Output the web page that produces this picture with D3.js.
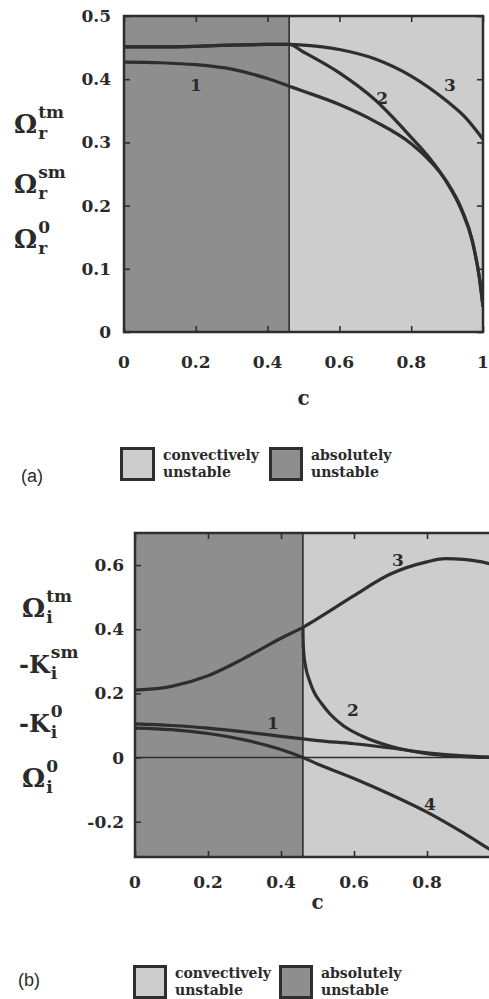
<!DOCTYPE html>
<html><head><meta charset="utf-8">
<script src="https://cdn.jsdelivr.net/npm/d3@7"></script>
<style>
html,body{margin:0;padding:0;background:#fff;}
svg{display:block;}
text{font-family:"DejaVu Serif",serif;font-weight:bold;fill:#2a2a2a;}
</style></head>
<body>
<script>
// ---------- DATA ----------
const boundaryC = 0.46;
// Panel (a)
const aCurve1C = [0,0.1,0.2,0.3,0.4,0.46,0.5,0.6,0.7,0.8,0.85,0.9,0.94,0.97,0.99,1.0];
const aCurve1V = [0.427,0.426,0.423,0.416,0.401,0.389,0.381,0.360,0.333,0.298,0.272,0.237,0.195,0.145,0.085,0.04];
const aCurve2C = [0,0.1,0.2,0.3,0.4,0.46,0.5,0.6,0.7,0.8,0.85,0.9,0.94,0.97,0.99,1.0];
const aCurve2V = [0.451,0.451,0.452,0.454,0.455,0.455,0.443,0.41,0.367,0.308,0.276,0.236,0.193,0.144,0.086,0.04];
const aCurve3C = [0,0.1,0.2,0.3,0.4,0.46,0.5,0.6,0.7,0.8,0.9,0.95,1.0];
const aCurve3V = [0.451,0.451,0.452,0.454,0.455,0.455,0.454,0.447,0.432,0.405,0.365,0.34,0.305];
const aYTicks = [0,0.1,0.2,0.3,0.4,0.5];
const aXTicks = [0,0.2,0.4,0.6,0.8,1];
// Panel (b)
const bCurve1C = [0,0.1,0.2,0.3,0.4,0.46,0.5,0.6,0.7,0.8,0.9,1.0];
const bCurve1V = [0.105,0.1,0.092,0.08,0.066,0.058,0.053,0.043,0.03,0.015,0.005,0.0];
const bCurve2C = [0.46,0.4605,0.462,0.468,0.478,0.49,0.51,0.535,0.57,0.62,0.7,0.8,0.9,1.0];
const bCurve2V = [0.406,0.37,0.33,0.28,0.24,0.205,0.17,0.135,0.1,0.068,0.035,0.012,0.003,0.0];
const bCurve3C = [0,0.1,0.2,0.3,0.4,0.46,0.5,0.6,0.7,0.8,0.85,0.9,0.95,1.0];
const bCurve3V = [0.21,0.222,0.255,0.31,0.372,0.406,0.433,0.505,0.572,0.61,0.62,0.618,0.61,0.595];
const bCurve4C = [0,0.1,0.2,0.3,0.4,0.46,0.5,0.6,0.7,0.8,0.9,0.97,1.0];
const bCurve4V = [0.092,0.087,0.075,0.055,0.025,0.0,-0.02,-0.065,-0.115,-0.17,-0.235,-0.285,-0.305];
const bYTicks = [-0.2,0,0.2,0.4,0.6];
const bXTicks = [0,0.2,0.4,0.6,0.8];
const legendLabels = [["convectively","unstable"],["absolutely","unstable"]];

// ---------- DRAW ----------
const W=489,H=999;
const svg=d3.select("body").append("svg").attr("width",W).attr("height",H);
const LINE="#2e2e2e", DARK="#8e8e8e", LIGHT="#cdcdcd";

function panel(o){
  const x=d3.scaleLinear().domain([0,1]).range([o.x0,o.x1]);
  const y=d3.scaleLinear().domain(o.yDom).range([o.yBot,o.yTop]);
  const g=svg.append("g");
  const cid="clip"+o.id;
  g.append("clipPath").attr("id",cid).append("rect")
    .attr("x",x(0)).attr("y",y(o.yDom[1])).attr("width",x(1)-x(0)).attr("height",y(o.yDom[0])-y(o.yDom[1]));
  g.append("rect").attr("x",x(0)).attr("y",y(o.yDom[1])).attr("width",x(boundaryC)-x(0))
    .attr("height",y(o.yDom[0])-y(o.yDom[1])).attr("fill",DARK);
  g.append("rect").attr("x",x(boundaryC)).attr("y",y(o.yDom[1])).attr("width",x(1)-x(boundaryC))
    .attr("height",y(o.yDom[0])-y(o.yDom[1])).attr("fill",LIGHT);
  g.append("line").attr("x1",x(boundaryC)).attr("x2",x(boundaryC)).attr("y1",y(o.yDom[0])).attr("y2",y(o.yDom[1]))
    .attr("stroke",LINE).attr("stroke-width",1.6);
  if(o.zeroLine){
    g.append("line").attr("x1",x(0)).attr("x2",x(1)).attr("y1",y(0)).attr("y2",y(0))
      .attr("stroke",LINE).attr("stroke-width",1.6);
  }
  const line=d3.line().x(d=>x(d[0])).y(d=>y(d[1])).curve(d3.curveMonotoneX);
  const cg=g.append("g").attr("clip-path","url(#"+cid+")");
  o.curves.forEach(c=>{
    cg.append("path").attr("d",line(d3.zip(c[0],c[1]))).attr("fill","none")
      .attr("stroke",LINE).attr("stroke-width",3.2).attr("stroke-linejoin","round");
  });
  g.append("g").attr("transform",`translate(0,${y(o.yDom[0])})`).call(d3.axisBottom(x).tickValues(o.xTicks).tickSize(-6).tickFormat(""));
  g.append("g").attr("transform",`translate(0,${y(o.yDom[1])})`).call(d3.axisTop(x).tickValues(o.xTicks).tickSize(-6).tickFormat(""));
  g.append("g").attr("transform",`translate(${x(0)},0)`).call(d3.axisLeft(y).tickValues(o.yTicks).tickSize(-6).tickFormat(""));
  g.append("g").attr("transform",`translate(${x(1)},0)`).call(d3.axisRight(y).tickValues(o.yTicks).tickSize(-6).tickFormat(""));
  g.selectAll(".domain").remove();
  g.selectAll(".tick line").attr("stroke",LINE).attr("stroke-width",1.6);
  g.append("rect").attr("x",x(0)).attr("y",y(o.yDom[1])).attr("width",x(1)-x(0))
    .attr("height",y(o.yDom[0])-y(o.yDom[1])).attr("fill","none").attr("stroke",LINE).attr("stroke-width",2.5);
  const fmt=v=>String(v);
  o.xTicks.forEach(v=>g.append("text").attr("x",x(v)).attr("y",o.xLabY).attr("text-anchor","middle")
    .attr("font-size",17).text(fmt(v)));
  o.yTicks.forEach(v=>g.append("text").attr("x",x(0)-o.yLabGap).attr("y",y(v)+6).attr("text-anchor","end")
    .attr("font-size",17).text(fmt(v)));
  g.append("text").attr("x",(x(0)+x(1))/2).attr("y",o.cY).attr("text-anchor","middle").attr("font-size",20).text("c");
  o.nums.forEach(n=>g.append("text").attr("x",x(n[1])).attr("y",y(n[2])).attr("text-anchor","middle")
    .attr("font-size",17).text(n[0]));
  o.qLabels.forEach(q=>{
    const t=g.append("text").attr("x",q.x).attr("y",q.y).attr("font-size",q.fs||26).text(q.main);
    const mainW=t.node().getComputedTextLength();
    g.append("text").attr("x",q.x+mainW+1).attr("y",q.y-15).attr("font-size",17).text(q.sup);
    g.append("text").attr("x",q.x+mainW+1).attr("y",q.y+6).attr("font-size",17).text(q.sub);
  });
  const L=o.legend;
  [[L.b1,LIGHT],[L.b2,DARK]].forEach((b,i)=>{
    g.append("rect").attr("x",b[0][0]+1.5).attr("y",L.by+1.5).attr("width",b[0][1]-3).attr("height",L.bh-3)
      .attr("fill",b[1]).attr("stroke",LINE).attr("stroke-width",3);
    const tx=b[0][0]+b[0][1]+8;
    g.append("text").attr("x",tx).attr("y",L.by+13).attr("font-size",14).text(legendLabels[i][0]);
    g.append("text").attr("x",tx).attr("y",L.by+30).attr("font-size",14).text(legendLabels[i][1]);
  });
  g.append("text").attr("x",L.tagX).attr("y",L.tagY).attr("font-size",18)
    .style("font-family","'Liberation Sans',Arial,sans-serif").style("font-weight","normal").text(o.tag);
}

panel({id:"a",x0:124,x1:483,yDom:[0,0.5],yBot:332,yTop:16,yTicks:aYTicks,xTicks:aXTicks,
  xLabY:368,yLabGap:13,cY:405,zeroLine:false,tag:"(a)",
  curves:[[aCurve1C,aCurve1V],[aCurve2C,aCurve2V],[aCurve3C,aCurve3V]],
  nums:[["1",0.2,0.381],["2",0.719,0.361],["3",0.908,0.381]],
  qLabels:[{x:14,y:133,main:"Ω",sup:"tm",sub:"r"},{x:14,y:193,main:"Ω",sup:"sm",sub:"r"},{x:14,y:248,main:"Ω",sup:"0",sub:"r"}],
  legend:{b1:[120,35],b2:[269,34],by:447,bh:34,tagX:21,tagY:482}
});
panel({id:"b",x0:135,x1:500,yDom:[-0.31,0.7],yBot:857,yTop:533,yTicks:bYTicks,xTicks:bXTicks,
  xLabY:888,yLabGap:11,cY:909,zeroLine:true,tag:"(b)",
  curves:[[bCurve1C,bCurve1V],[bCurve2C,bCurve2V],[bCurve3C,bCurve3V],[bCurve4C,bCurve4V]],
  nums:[["1",0.378,0.09],["2",0.597,0.128],["3",0.72,0.597],["4",0.808,-0.1625]],
  qLabels:[{x:22,y:617,main:"Ω",sup:"tm",sub:"i"},{x:19,y:673,main:"-K",sup:"sm",sub:"i",fs:24},{x:19,y:732,main:"-K",sup:"0",sub:"i",fs:24},{x:22,y:787,main:"Ω",sup:"0",sub:"i"}],
  legend:{b1:[133,34],b2:[279,34],by:965,bh:34,tagX:18,tagY:986}
});
</script>
</body></html>
